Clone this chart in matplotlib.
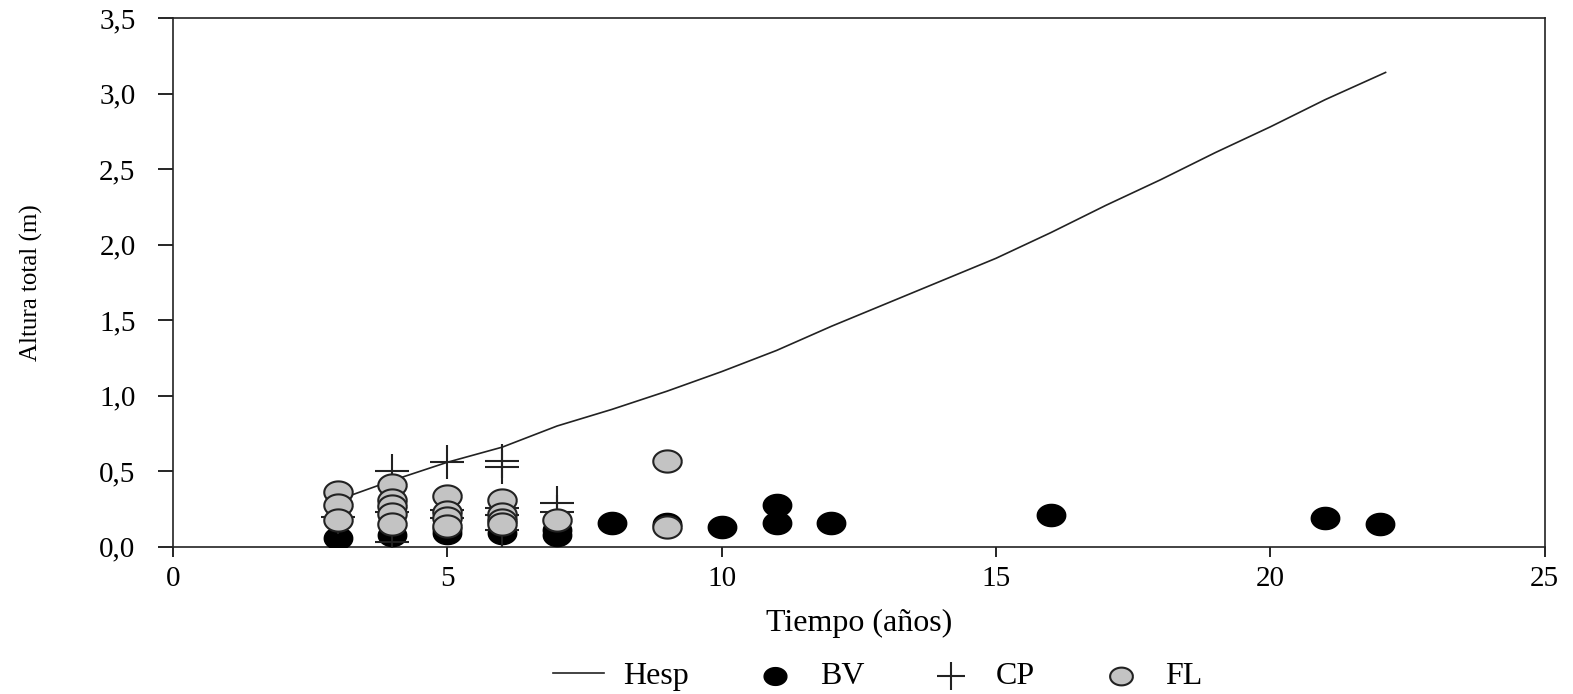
import numpy as np
import matplotlib.pyplot as plt
from matplotlib.ticker import FuncFormatter

# curva Hesp
hesp_t = [3, 4, 5, 6, 7, 8, 9, 10, 11, 12, 13, 14, 15, 16, 17, 18, 19, 20, 21, 22.1]
hesp_h = [0.31, 0.44, 0.56, 0.66, 0.80, 0.91, 1.03, 1.16, 1.30, 1.46, 1.61, 1.76, 1.91, 2.08, 2.26, 2.43, 2.61, 2.78, 2.96, 3.14]

# BV
bv_t = [3, 4, 5, 5, 6, 7, 7, 8, 9, 10, 11, 11, 12, 16, 21, 22]
bv_h = [0.06, 0.08, 0.09, 0.12, 0.09, 0.11, 0.08, 0.16, 0.15, 0.13, 0.28, 0.16, 0.16, 0.21, 0.19, 0.15]

# CP
cp_t = [3, 4, 4, 4, 5, 5, 5, 6, 6, 6, 6, 6, 7, 7]
cp_h = [0.20, 0.50, 0.23, 0.03, 0.56, 0.245, 0.19, 0.57, 0.53, 0.26, 0.21, 0.11, 0.29, 0.23]

# FL
fl_t = [3, 3, 3, 4, 4, 4, 4, 4, 5, 5, 5, 5, 6, 6, 6, 6, 7, 9, 9]
fl_h = [0.36, 0.28, 0.18, 0.41, 0.31, 0.27, 0.22, 0.15, 0.34, 0.23, 0.19, 0.14, 0.31, 0.22, 0.18, 0.15, 0.18, 0.57, 0.13]

plt.rcParams['font.family'] = 'Liberation Serif'

# marcador eliptico
th = np.linspace(0, 2 * np.pi, 60)
elipse = np.column_stack([np.cos(th), 0.78 * np.sin(th)])

dpi = 100
fig = plt.figure(figsize=(1573 / dpi, 694 / dpi), dpi=dpi)
ax = fig.add_axes([0.110, 0.212, 0.872, 0.762])

ax.plot(hesp_t, hesp_h, color='#222222', lw=1.2, label='Hesp', zorder=2)
ax.scatter(bv_t, bv_h, marker=elipse, s=420, color='black', label='BV', zorder=3)
ax.scatter(cp_t, cp_h, marker='+', s=600, color='#222222', linewidths=1.5, label='CP', zorder=4)
ax.scatter(fl_t, fl_h, marker=elipse, s=420, facecolor='#c3c3c3', edgecolor='#222222',
           linewidths=1.5, label='FL', zorder=5)

ax.set_xlim(0, 25)
ax.set_ylim(0, 3.5)
ax.set_xticks(range(0, 26, 5))
ax.set_yticks(np.arange(0, 3.51, 0.5))
ax.yaxis.set_major_formatter(FuncFormatter(lambda v, p: f'{v:.1f}'.replace('.', ',')))
ax.tick_params(axis='y', direction='out', length=11, width=1.2, labelsize=21, pad=16)
ax.tick_params(axis='x', direction='out', length=7, width=1.2, labelsize=21, pad=7)
for s in ax.spines.values():
    s.set_linewidth(1.2)
    s.set_color('#222222')

ax.set_xlabel('Tiempo (años)', fontsize=23)
ax.set_ylabel('Altura total (m)', fontsize=18)
ax.xaxis.set_label_coords(0.5, -0.118)
ax.yaxis.set_label_coords(-0.095, 0.5)

leg = fig.legend(loc='center', bbox_to_anchor=(0.558, 0.025), ncol=4, frameon=False,
                 fontsize=23, handlelength=1.6, handletextpad=0.6, columnspacing=1.9,
                 markerscale=0.8)

plt.savefig('out.png')
